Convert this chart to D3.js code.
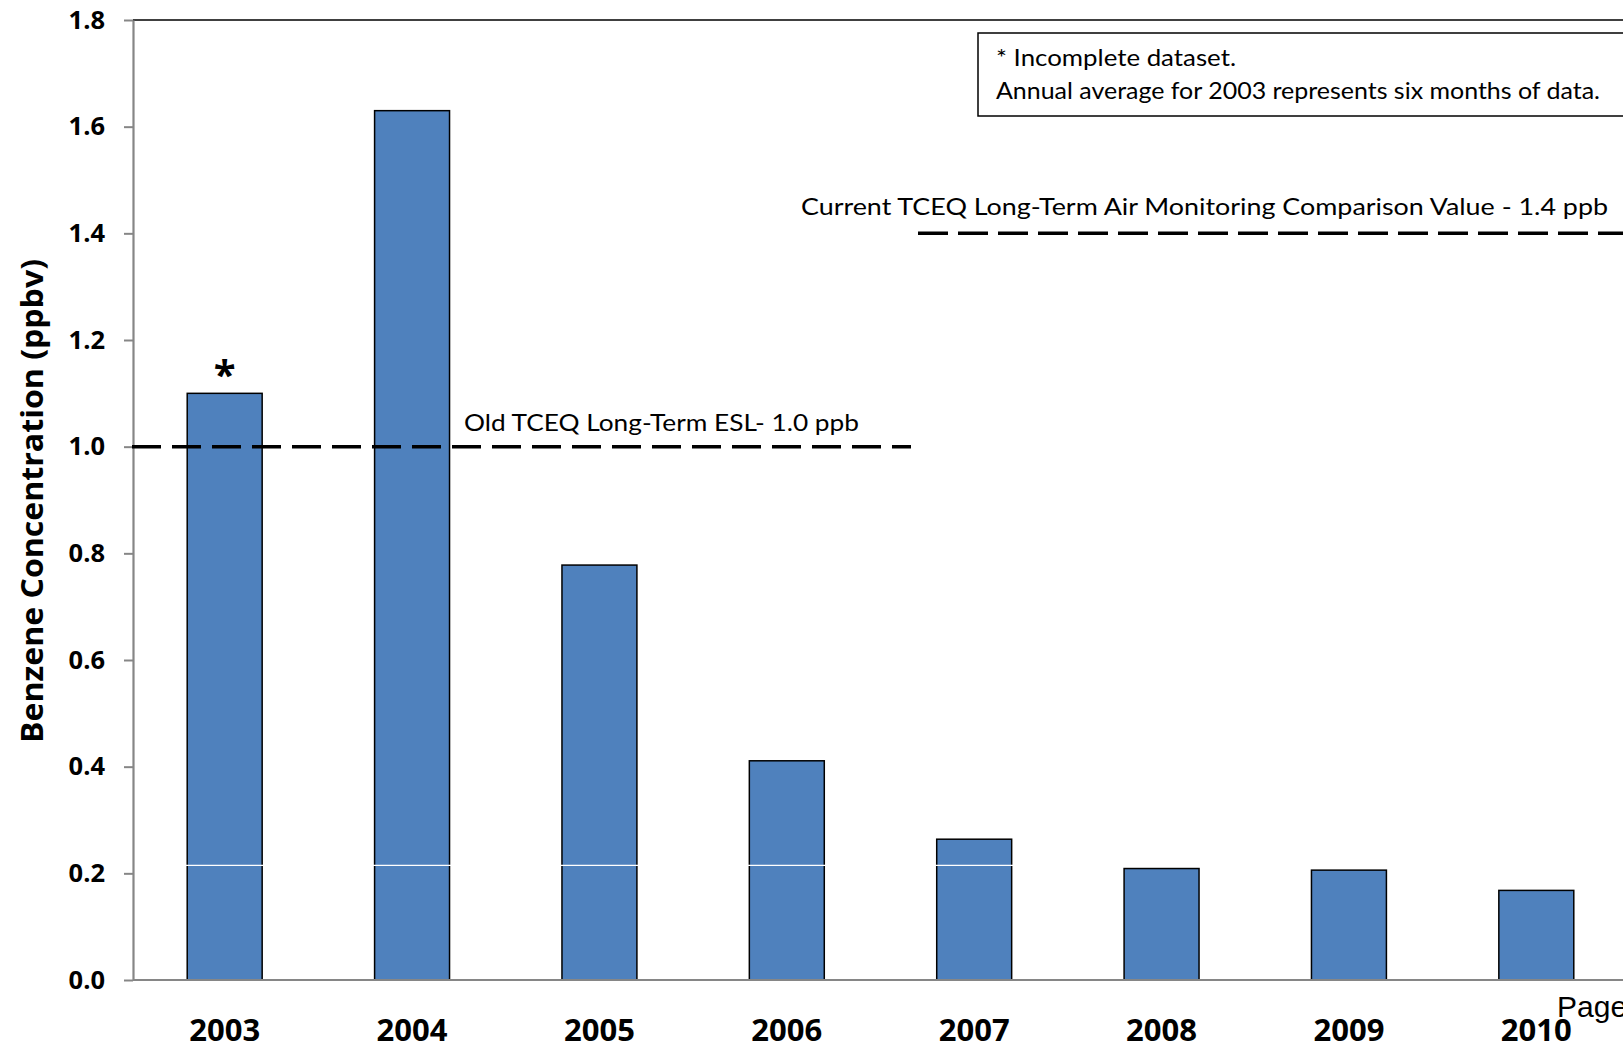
<!DOCTYPE html>
<html>
<head>
<meta charset="utf-8">
<script src="https://cdnjs.cloudflare.com/ajax/libs/d3/7.8.5/d3.min.js"></script>
<style>
  html, body { margin: 0; padding: 0; background: #fff; }
  svg { display: block; }
</style>
</head>
<body>
<svg id="chart" width="1623" height="1051"></svg>
<script>
// Annual average benzene concentrations (ppbv)
const years = ["2003", "2004", "2005", "2006", "2007", "2008", "2009", "2010"];
const benzene = [1.10, 1.63, 0.778, 0.411, 0.264, 0.209, 0.206, 0.168];
const incomplete = ["2003"];
const yTicks = [0.0, 0.2, 0.4, 0.6, 0.8, 1.0, 1.2, 1.4, 1.6, 1.8];

// Reference levels
const oldESL = 1.0;
const currentAMCV = 1.4;
const baseLine = 0.215;

const oldLabel = "Old TCEQ Long-Term ESL- 1.0 ppb";
const currentLabel = "Current TCEQ Long-Term Air Monitoring Comparison Value - 1.4 ppb";
const noteLines = ["* Incomplete dataset.", "Annual average for 2003  represents six months of data."];
const yTitle = "Benzene Concentration (ppbv)";

const W = 1623, H = 1051;
const plot = { left: 133, top: 20, bottom: 980, right: W };

const svg = d3.select("#chart");
const body = "Lato, 'Open Sans', sans-serif";
const heavy = "'Open Sans', Lato, sans-serif";

const x = d3.scaleBand()
  .domain(years)
  .range([131, 1630])
  .paddingInner(0.6)
  .paddingOuter(0.3);

const y = d3.scaleLinear()
  .domain([0, 1.8])
  .range([plot.bottom, plot.top]);

// top frame line
svg.append("line")
  .attr("x1", plot.left).attr("x2", plot.right)
  .attr("y1", y(1.8)).attr("y2", y(1.8))
  .attr("stroke", "#000").attr("stroke-width", 1.5);

// bars
const data = years.map((yr, i) => ({ year: yr, value: benzene[i] }));
svg.append("g").selectAll("rect")
  .data(data)
  .join("rect")
  .attr("x", d => x(d.year))
  .attr("y", d => y(d.value))
  .attr("width", x.bandwidth())
  .attr("height", d => y(0) - y(d.value))
  .attr("fill", "#4F81BD")
  .attr("stroke", "#000")
  .attr("stroke-width", 1.5);

// thin white level line crossing the taller bars
svg.append("line")
  .attr("x1", plot.left + 1).attr("x2", plot.right)
  .attr("y1", y(baseLine)).attr("y2", y(baseLine))
  .attr("stroke", "#fff").attr("stroke-width", 1.3);

// x baseline
svg.append("line")
  .attr("x1", plot.left).attr("x2", plot.right)
  .attr("y1", y(0)).attr("y2", y(0))
  .attr("stroke", "#868686").attr("stroke-width", 2.2);

// y axis
const yAxis = svg.append("g")
  .attr("transform", `translate(${plot.left},0)`)
  .call(d3.axisLeft(y)
    .tickValues(yTicks)
    .tickFormat(d3.format(".1f"))
    .tickSize(9)
    .tickSizeOuter(0)
    .tickPadding(19));
yAxis.select(".domain").attr("stroke", "#868686").attr("stroke-width", 2.2);
yAxis.selectAll(".tick line").attr("stroke", "#868686").attr("stroke-width", 2);
yAxis.selectAll(".tick text")
  .attr("fill", "#000")
  .style("font-family", heavy)
  .style("font-weight", "bold")
  .style("font-size", "25.5px");

// x axis labels
svg.append("g").selectAll("text")
  .data(years)
  .join("text")
  .attr("x", d => x(d) + x.bandwidth() / 2)
  .attr("y", 1041)
  .attr("text-anchor", "middle")
  .style("font-family", heavy)
  .style("font-weight", "bold")
  .style("font-size", "31px")
  .text(d => d);

// asterisk over incomplete years
svg.append("g").selectAll("text")
  .data(data.filter(d => incomplete.includes(d.year)))
  .join("text")
  .attr("x", d => x(d.year) + x.bandwidth() / 2)
  .attr("y", d => y(d.value) - 4)
  .attr("text-anchor", "middle")
  .style("font-family", heavy)
  .style("font-weight", "bold")
  .style("font-size", "40px")
  .text("*");

// reference lines
svg.append("line")
  .attr("x1", plot.left - 1).attr("x2", 911)
  .attr("y1", y(oldESL)).attr("y2", y(oldESL))
  .attr("stroke", "#000").attr("stroke-width", 3.5)
  .attr("stroke-dasharray", "29,11");
svg.append("line")
  .attr("x1", 918).attr("x2", plot.right)
  .attr("y1", y(currentAMCV)).attr("y2", y(currentAMCV))
  .attr("stroke", "#000").attr("stroke-width", 3.5)
  .attr("stroke-dasharray", "30,10");

svg.append("text")
  .attr("x", 464).attr("y", y(oldESL) - 16)
  .attr("textLength", 395).attr("lengthAdjust", "spacingAndGlyphs")
  .style("font-family", body).style("font-size", "23px")
  .text(oldLabel);
svg.append("text")
  .attr("x", 801).attr("y", y(currentAMCV) - 18)
  .attr("textLength", 807).attr("lengthAdjust", "spacingAndGlyphs")
  .style("font-family", body).style("font-size", "23px")
  .text(currentLabel);

// note box
svg.append("rect")
  .attr("x", 978).attr("y", 33)
  .attr("width", 700).attr("height", 83)
  .attr("fill", "#fff")
  .attr("stroke", "#000").attr("stroke-width", 1.5);
svg.append("text")
  .attr("x", 996).attr("y", 66)
  .attr("textLength", 240).attr("lengthAdjust", "spacingAndGlyphs")
  .style("font-family", body).style("font-size", "23px")
  .text(noteLines[0]);
svg.append("text")
  .attr("x", 996).attr("y", 99)
  .attr("textLength", 604).attr("lengthAdjust", "spacingAndGlyphs")
  .style("font-family", body).style("font-size", "23px")
  .text(noteLines[1]);

// y axis title
svg.append("text")
  .attr("transform", `translate(43,501) rotate(-90)`)
  .attr("text-anchor", "middle")
  .attr("textLength", 484).attr("lengthAdjust", "spacingAndGlyphs")
  .style("font-family", heavy)
  .style("font-weight", "bold")
  .style("font-size", "30px")
  .text(yTitle);

// page footer fragment
svg.append("text")
  .attr("x", 1557).attr("y", 1017)
  .style("font-family", "'Liberation Sans', Arial, sans-serif")
  .style("font-size", "30px")
  .text("Page");
</script>
</body>
</html>
